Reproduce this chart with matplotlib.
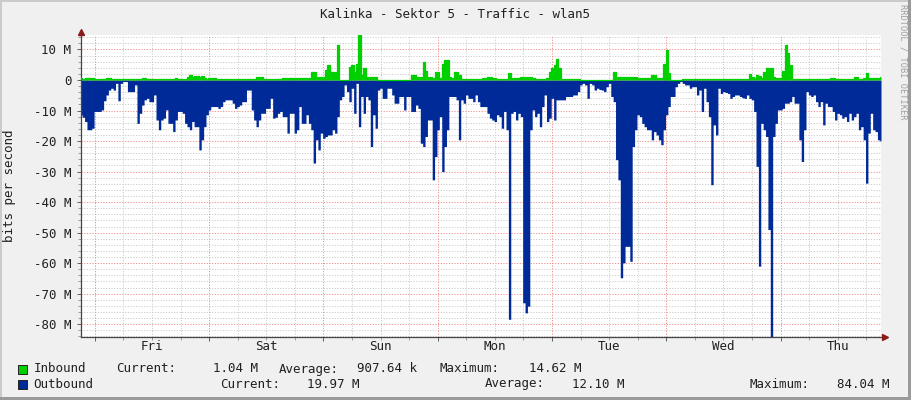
import numpy as np
import matplotlib
matplotlib.use("Agg")
import matplotlib.pyplot as plt
from matplotlib.patches import Rectangle
from matplotlib.ticker import FixedLocator, FuncFormatter
import matplotlib.transforms as mtransforms

# ---------------- data (30-minute samples, Mbit/s) ----------------
title = "Kalinka - Sektor 5 - Traffic - wlan5"
day_labels = ["Fri", "Sat", "Sun", "Mon", "Tue", "Wed", "Thu"]
first_midnight_h = 2.9          # hours after graph start
span_hours = 168
step_hours = 0.5

outbound = [
    # Fri
    11.4, 12.2, 13.6, 16.3, 16.3, 15.8, 10.3, 10.3, 10.3, 9.8,
    6.8, 4.9, 3.3, 2.7, 3.3, 1.1, 6.8, 1.1, 0.5, 0.5,
    3.8, 3.8, 3.8, 1.6, 14.2, 10.9, 8.2, 6.5, 6.0, 7.1,
    7.1, 4.9, 13.1, 16.3, 13.1, 12.5, 9.8, 14.2, 14.2, 16.9,
    13.1, 10.3, 10.3, 10.9, 14.2, 15.3, 16.3, 13.6, 15.3, 15.3,
    22.9, 19.6, 15.3, 11.4, 9.8, 8.7, 8.7, 8.7, 9.3, 8.7,
    7.1, 6.5, 6.5, 6.5, 7.6, 9.3, 8.7, 8.2, 7.1, 7.1,
    3.3, 3.3, 9.8, 13.1, 15.3, 13.1, 10.9, 10.9, 9.3, 9.3,
    6.0, 12.5, 12.2, 10.9, 10.3,
    # Sat / Sun
    12.0, 12.0, 17.4, 10.9, 10.9, 17.4, 16.3, 8.7, 14.2, 14.2,
    11.4, 14.2, 16.3, 27.2, 19.6, 22.9, 17.4, 19.1, 18.5, 18.0,
    18.0, 16.3, 17.4, 12.0, 6.5, 5.4, 1.6, 3.8, 7.1, 2.7,
    10.9, 1.1, 15.3, 5.4, 10.9, 5.4, 6.5, 21.8, 11.4, 15.8,
    3.3, 2.7, 6.0, 6.0, 2.7, 2.7, 4.9, 7.6, 7.6, 5.4,
    5.4, 9.8, 5.4, 5.4, 10.3, 10.3, 8.2, 9.3, 20.7, 21.8,
    18.5, 13.1, 13.1, 32.7, 25.1, 16.3, 12.0, 30.0, 21.8, 16.3,
    5.4, 5.4, 5.4, 6.5, 19.6, 6.5, 7.6, 4.9, 6.0, 6.0,
    7.1, 4.9, 7.1, 8.7,
    # Mon / Tue
    8.7, 8.7, 10.9, 12.5, 13.1, 13.6, 11.4, 12.0, 15.8, 10.3,
    16.3, 78.4, 10.9, 10.3, 13.1, 10.9, 12.0, 73.0, 76.3, 74.1,
    16.3, 9.8, 12.0, 10.9, 15.3, 8.7, 4.9, 13.6, 12.5, 6.0,
    13.1, 6.5, 6.5, 6.5, 6.5, 5.4, 5.4, 5.4, 4.9, 4.9,
    3.8, 1.6, 1.1, 1.6, 6.0, 1.1, 1.6, 3.3, 2.7, 3.1,
    3.3, 3.8, 2.2, 1.1, 5.4, 7.1, 26.1, 32.7, 64.8, 59.9,
    54.5, 54.5, 59.4, 21.8, 16.3, 11.4, 12.0, 14.2, 15.3, 16.3,
    16.3, 19.6, 16.9, 18.0, 19.6, 21.2, 16.3, 11.4, 8.7, 5.4,
    5.4, 2.2, 1.1, 0.5,
    # Wed / Thu
    1.1, 1.6, 1.6, 2.7, 2.2, 2.2, 4.9, 3.3, 10.3, 2.7,
    7.1, 12.0, 34.3, 14.7, 18.0, 2.7, 4.4, 3.8, 4.1, 4.4,
    6.0, 5.4, 4.9, 4.9, 5.4, 5.8, 6.0, 4.9, 6.0, 6.5,
    10.3, 28.3, 61.0, 14.2, 16.3, 18.5, 49.0, 84.04, 18.5, 14.2,
    9.8, 9.8, 9.3, 7.6, 7.6, 7.1, 5.4, 7.6, 7.6, 19.6,
    26.7, 16.3, 3.8, 4.9, 5.4, 4.9, 7.1, 8.7, 7.1, 14.7,
    7.6, 8.7, 8.7, 10.3, 13.1, 10.9, 11.4, 12.5, 12.0, 13.6,
    10.9, 13.1, 12.0, 10.9, 16.3, 15.3, 19.6, 33.8, 17.4, 10.9,
    16.3, 16.9, 19.6, 19.97,
]

inbound = [
    0.5, 0.3, 0.6, 0.6, 0.6, 0.6, 0.3, 0.3, 0.3, 0.3,
    0.3, 0.6, 0.6, 0.3, 0.3, 0.3, 0.3, 0.3, 0.3, 0.3,
    0.3, 0.3, 0.3, 0.3, 0.3, 0.3, 0.8, 0.8, 0.3, 0.3,
    0.3, 0.3, 0.3, 0.3, 0.3, 0.3, 0.3, 0.3, 0.3, 0.3,
    0.6, 0.3, 0.3, 0.3, 0.3, 1.0, 1.6, 1.0, 1.2, 1.2,
    1.0, 1.2, 0.8, 0.3, 0.5, 0.5, 0.5, 0.3, 0.3, 0.3,
    0.3, 0.3, 0.3, 0.3, 0.3, 0.3, 0.3, 0.3, 0.3, 0.3,
    0.3, 0.3, 0.3, 0.3, 1.0, 1.0, 1.0, 0.3, 0.3, 0.3,
    0.3, 0.3, 0.3, 0.3, 0.4,
    0.5, 0.5, 0.5, 0.5, 0.5, 0.5, 0.5, 0.5, 0.5, 0.5,
    0.5, 0.5, 2.7, 2.7, 1.1, 1.1, 1.1, 1.1, 3.3, 4.9,
    2.7, 2.7, 2.7, 11.4, 0.1, 0.1, 0.1, 0.1, 4.4, 4.9,
    2.7, 5.4, 14.62, 1.6, 3.8, 1.1, 1.1, 1.1, 1.1, 1.1,
    0.1, 0.1, 0.1, 0.1, 0.1, 0.1, 0.1, 0.1, 0.1, 0.1,
    0.1, 0.1, 0.1, 0.1, 1.6, 1.6, 1.1, 1.1, 1.1, 6.0,
    3.0, 1.1, 1.1, 0.5, 2.7, 2.7, 0.5, 5.4, 6.5, 6.5,
    1.1, 0.5, 2.7, 2.7, 1.5, 0.2, 0.2, 0.2, 0.2, 0.2,
    0.2, 0.2, 0.2, 0.2,
    0.5, 0.5, 1.0, 1.0, 0.5, 0.5, 0.3, 0.3, 0.3, 0.3,
    0.3, 2.2, 0.5, 0.5, 0.5, 0.5, 1.0, 1.0, 1.0, 1.0,
    1.0, 0.5, 0.3, 0.2, 0.2, 0.2, 0.2, 0.5, 2.5, 3.8,
    5.0, 7.0, 4.0, 0.2, 0.2, 0.2, 0.2, 0.2, 0.2, 0.2,
    0.2, 0.05, 0.05, 0.05, 0.05, 0.05, 0.05, 0.05, 0.05, 0.05,
    0.05, 0.05, 0.05, 0.05, 0.05, 2.7, 0.9, 0.9, 0.9, 0.9,
    0.9, 0.9, 0.9, 0.9, 0.9, 0.5, 0.5, 0.5, 0.5, 0.5,
    0.5, 1.6, 1.6, 0.5, 0.5, 0.5, 5.4, 9.8, 2.2, 0.05,
    0.05, 0.05, 0.05, 0.05,
    0.2, 0.2, 0.2, 0.2, 0.2, 0.2, 0.2, 0.2, 0.2, 0.2,
    0.2, 0.2, 0.2, 0.2, 0.2, 0.2, 0.2, 0.2, 0.2, 0.2,
    0.2, 0.2, 0.2, 0.2, 0.2, 0.2, 0.2, 0.2, 2.0, 1.0,
    0.5, 1.5, 1.3, 0.5, 2.5, 3.8, 3.8, 3.8, 1.1, 0.5,
    0.5, 0.5, 3.0, 11.4, 9.0, 5.0, 0.2, 0.2, 0.2, 0.2,
    0.2, 0.2, 0.2, 0.2, 0.2, 0.2, 0.2, 0.2, 0.2, 0.2,
    0.2, 0.2, 0.5, 0.5, 0.3, 0.3, 0.3, 0.3, 0.3, 0.3,
    0.3, 0.3, 0.9, 0.9, 0.3, 0.3, 0.5, 2.2, 0.6, 0.5,
    0.5, 0.5, 0.5, 1.04,
]

y_ticks = [10, 0, -10, -20, -30, -40, -50, -60, -70, -80]

legend_rows = [
    ("Inbound", "#00CF00", [(116, "Current:"), (213, "1.04 M"), (279, "Average:"),
                            (357, "907.64 k"), (440, "Maximum:"), (529, "14.62 M")]),
    ("Outbound", "#002A97", [(220, "Current:"), (307, "19.97 M"), (485, "Average:"),
                             (572, "12.10 M"), (750, "Maximum:"), (837, "84.04 M")]),
]

# ---------------- figure ----------------
W, H = 911, 400
fig = plt.figure(figsize=(W / 100, H / 100), dpi=100)
fig.patch.set_facecolor("#F0F0F0")
MONO = "DejaVu Sans Mono"
FS = 9.0
TXT = "#202020"

def fx(x):
    return x / W

def fy(y):
    return 1 - y / H

# frame shading
fig.patches.append(Rectangle((0, 0), fx(2), 1, transform=fig.transFigure, color="#CBCBCB", lw=0, zorder=-5))
fig.patches.append(Rectangle((0, fy(2)), 1, 2 / H, transform=fig.transFigure, color="#CBCBCB", lw=0, zorder=-5))
fig.patches.append(Rectangle((fx(908), 0), fx(3), 1, transform=fig.transFigure, color="#9A9A9A", lw=0, zorder=-4))
fig.patches.append(Rectangle((0, 0), 1, 3 / H, transform=fig.transFigure, color="#9A9A9A", lw=0, zorder=-4))

ax_left, ax_right, ax_top, ax_bot = 81, 881, 35.4, 336.5
ax = fig.add_axes([fx(ax_left), fy(ax_bot), (ax_right - ax_left) / W, (ax_bot - ax_top) / H])
ax.set_facecolor("white")

t_out = np.arange(len(outbound)) * step_hours
t_in = np.arange(len(inbound)) * step_hours
out_neg = -np.asarray(outbound)
inb = np.asarray(inbound)

ax.set_xlim(0, span_hours)
ax.set_ylim(-max(outbound), max(inbound))

# grid
minor_col = (0.80, 0.80, 0.80)
major_col = (0.95, 0.55, 0.55)
dots = (0, (1.2, 1.6))
minor_y = [v for v in range(-84, 15, 2) if v % 10 != 0]
for v in minor_y:
    ax.axhline(v, color=minor_col, lw=0.7, ls=dots, zorder=0)
for v in y_ticks:
    ax.axhline(v, color=major_col, lw=0.7, ls=dots, zorder=0)
midnights = [first_midnight_h + 24 * k for k in range(7)]
six_h = [first_midnight_h + 6 * k for k in range(28) if first_midnight_h + 6 * k < span_hours]
minor_x = [t for t in six_h if t not in midnights]
for t in minor_x:
    ax.axvline(t, color=minor_col, lw=0.7, ls=dots, zorder=0)
for t in midnights:
    ax.axvline(t, color=major_col, lw=0.7, ls=dots, zorder=0)

# data
ax.fill_between(t_out, 0, out_neg, step="mid", color="#002A97", lw=0, zorder=2)
ax.fill_between(t_in, 0, inb, step="mid", color="#00CF00", lw=0, zorder=3)
ax.step(t_in, inb, where="mid", color="#00CF00", lw=0.9, zorder=3)

# spines
for s in ["top", "right"]:
    ax.spines[s].set_visible(False)
for s in ["left", "bottom"]:
    ax.spines[s].set_color("#454545")
    ax.spines[s].set_linewidth(0.9)

# ticks
ax.yaxis.set_major_locator(FixedLocator(y_ticks))
ax.yaxis.set_minor_locator(FixedLocator(minor_y))
ax.yaxis.set_major_formatter(FuncFormatter(lambda v, p: "0" if v == 0 else f"{int(v)} M"))
ax.tick_params(axis="y", which="major", length=3, width=0.7, color="#606060", pad=4,
               labelsize=FS, labelfontfamily=MONO, labelcolor=TXT)
ax.tick_params(axis="y", which="minor", length=2, width=0.6, color="#909090")
ax.xaxis.set_major_locator(FixedLocator(midnights))
ax.xaxis.set_minor_locator(FixedLocator(minor_x))
ax.xaxis.set_major_formatter(FuncFormatter(lambda v, p: ""))
ax.tick_params(axis="x", which="major", length=3, width=0.7, color="#606060")
ax.tick_params(axis="x", which="minor", length=2, width=0.6, color="#909090")

xt = ax.get_xaxis_transform()
for k, lab in enumerate(day_labels):
    ax.text(first_midnight_h + 12 + 24 * k, -(346 - ax_bot) / (ax_bot - ax_top), lab,
            transform=xt, ha="center", va="center", family=MONO, fontsize=FS, color=TXT)

# arrows
off_up = mtransforms.offset_copy(ax.transAxes, fig=fig, x=0, y=3, units="dots")
ax.plot([0], [1], marker="^", ms=5, color="#8B1A1A", transform=off_up, clip_on=False, zorder=5)
off_rt = mtransforms.offset_copy(ax.transAxes, fig=fig, x=4, y=0, units="dots")
ax.plot([1], [0], marker=">", ms=5, color="#8B1A1A", transform=off_rt, clip_on=False, zorder=5)

# texts
fig.text(fx(455), fy(14.5), title, ha="center", va="center", family=MONO, fontsize=FS, color=TXT)
fig.text(fx(10), fy(186), "bits per second", rotation=90, ha="center", va="center",
         family=MONO, fontsize=FS, color=TXT)
fig.text(fx(903), fy(62), "RRDTOOL / TOBI OETIKER", rotation=270, ha="center", va="center",
         family=MONO, fontsize=6.2, color="#A0A0A0")

row_y = [369, 384]
for (name, col, items), yy in zip(legend_rows, row_y):
    fig.patches.append(Rectangle((fx(18), fy(yy + 5)), fx(9), 9 / H, transform=fig.transFigure,
                                 facecolor=col, edgecolor=TXT, lw=0.7))
    fig.text(fx(33.5), fy(yy), name, ha="left", va="center", family=MONO, fontsize=FS, color=TXT)
    for xp, s in items:
        fig.text(fx(xp), fy(yy), s, ha="left", va="center", family=MONO, fontsize=FS, color=TXT)

fig.savefig("out.png", dpi=100, facecolor=fig.get_facecolor())
